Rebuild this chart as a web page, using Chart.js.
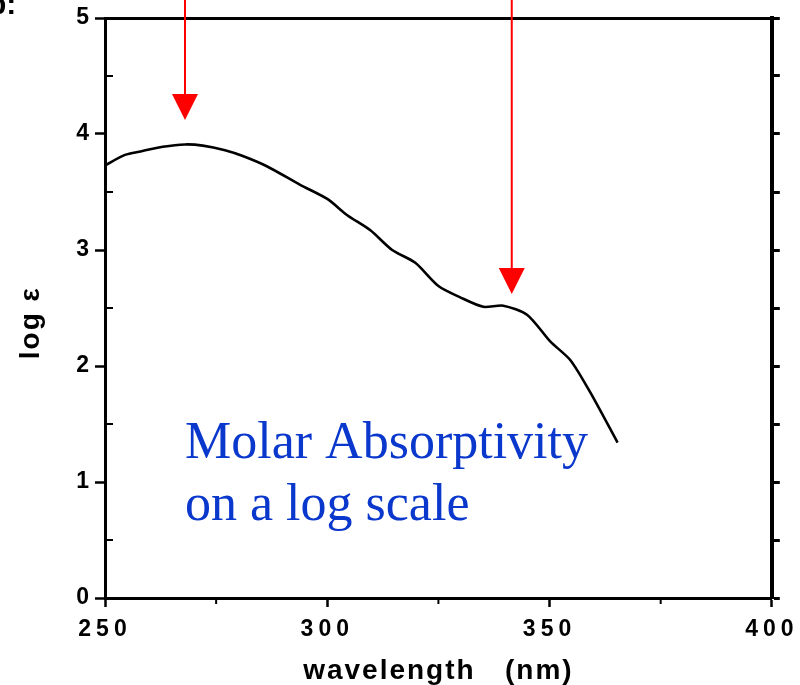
<!DOCTYPE html>
<html>
<head>
<meta charset="utf-8">
<script src="https://cdn.jsdelivr.net/npm/chart.js@4/dist/chart.umd.min.js"></script>
<style>
    html, body { margin: 0; padding: 0; background: #fff; }
    #wrap { width: 800px; height: 685px; }
</style>
</head>
<body>
<div id="wrap"><canvas id="spectrum" width="800" height="685"></canvas></div>
<script>
// wavelength (nm) and log epsilon
const wavelength = [250, 254.5, 258, 263, 268, 272, 277, 281, 286.5, 294, 300, 304.5, 309.7, 314.6, 319.8, 325, 330, 335.1, 339.6, 345, 350.2, 354.7, 359.2, 365.3];
const logEps = [3.73, 3.82, 3.85, 3.89, 3.91, 3.90, 3.86, 3.81, 3.72, 3.56, 3.44, 3.30, 3.17, 3.00, 2.89, 2.69, 2.59, 2.51, 2.52, 2.44, 2.21, 2.05, 1.77, 1.34];

const xTicks = [250, 300, 350, 400];
const yTicks = [0, 1, 2, 3, 4, 5];

// red arrows: wavelength and where the tip sits (log eps)
const arrowAt = [268, 341.5];
const arrowTip = [4.12, 2.62];

const noteLines = ['Molar Absorptivity', 'on a log scale'];
const noteAt = [268, 1.21, 0.67]; // x, baseline of line 1, baseline of line 2

const ink = '#000';

// spaced-out lettering: titles are drawn before the datasets, tick labels (z 1) after
const spacing = {
    id: 'spacing',
    beforeDraw(chart) {
        chart.ctx.letterSpacing = '2px';
    },
    afterDatasetsDraw(chart) {
        chart.ctx.letterSpacing = '5px';
    }
};

// arrows, the blue note, the cut "b:" and the inward minor ticks
const extras = {
    id: 'extras',
    afterDraw(chart) {
        const ctx = chart.ctx;
        const xs = chart.scales.x;
        const ys = chart.scales.y;
        const area = chart.chartArea;

        ctx.letterSpacing = '0px';
        ctx.save();
        // minor ticks, pointing inward
        ctx.strokeStyle = ink;
        ctx.lineWidth = 2;
        for (let v = 0.5; v < 5; v += 1) {
            const py = ys.getPixelForValue(v);
            ctx.beginPath();
            ctx.moveTo(area.left, py);
            ctx.lineTo(area.left + 8, py);
            ctx.stroke();
        }
        for (let v = 275; v < 400; v += 50) {
            const px = xs.getPixelForValue(v);
            ctx.beginPath();
            ctx.moveTo(px, area.bottom);
            ctx.lineTo(px, area.bottom + 6);
            ctx.stroke();
        }

        // red arrows from the top of the page
        ctx.strokeStyle = '#ff0000';
        ctx.fillStyle = '#ff0000';
        ctx.lineWidth = 2;
        arrowAt.forEach((w, i) => {
            const px = xs.getPixelForValue(w);
            const tip = ys.getPixelForValue(arrowTip[i]);
            ctx.beginPath();
            ctx.moveTo(px, 0);
            ctx.lineTo(px, tip - 24);
            ctx.stroke();
            ctx.beginPath();
            ctx.moveTo(px - 13, tip - 26);
            ctx.lineTo(px + 13, tip - 26);
            ctx.lineTo(px, tip);
            ctx.closePath();
            ctx.fill();
        });

        // blue note
        ctx.fillStyle = '#0a37cc';
        ctx.font = '52px "Liberation Serif", "Times New Roman", serif';
        ctx.textAlign = 'left';
        ctx.textBaseline = 'alphabetic';
        const nx = xs.getPixelForValue(noteAt[0]);
        ctx.fillText(noteLines[0], nx, ys.getPixelForValue(noteAt[1]));
        ctx.fillText(noteLines[1], nx, ys.getPixelForValue(noteAt[2]));

        // panel letter, cut off at the page edge
        ctx.fillStyle = ink;
        ctx.font = 'bold 30px "Liberation Sans", Arial, sans-serif';
        ctx.fillText('b:', -12, 14);
        ctx.restore();
    }
};

const tickFont = { family: '"Liberation Sans", Arial, sans-serif', size: 23, weight: 'bold' };
const titleFont = { family: '"Liberation Sans", Arial, sans-serif', size: 28, weight: 'bold' };

new Chart(document.getElementById('spectrum'), {
    type: 'line',
    data: {
        datasets: [{
            data: wavelength.map((w, i) => ({ x: w, y: logEps[i] })),
            borderColor: ink,
            borderWidth: 2.6,
            pointRadius: 0,
            tension: 0.25,
            fill: false
        }]
    },
    options: {
        responsive: false,
        animation: false,
        layout: { padding: { left: 0, top: 18, right: 27, bottom: 0 } },
        plugins: {
            legend: { display: false },
            tooltip: { enabled: false }
        },
        scales: {
            x: {
                type: 'linear',
                min: 250,
                max: 400,
                afterBuildTicks: s => { s.ticks = xTicks.map(v => ({ value: v })); },
                afterFit: s => { s.height = 87; },
                ticks: { color: ink, font: tickFont, padding: 9, maxRotation: 0, z: 1 },
                grid: { drawOnChartArea: false, drawTicks: true, tickLength: 9, tickWidth: 2.5, tickColor: ink },
                border: { color: ink, width: 3 },
                title: { display: true, text: 'wavelength   (nm)', color: ink, font: titleFont, padding: { top: 0, bottom: -3 } }
            },
            x2: {
                type: 'linear',
                position: 'top',
                min: 250,
                max: 400,
                afterFit: s => { s.height = 0; },
                ticks: { display: false },
                grid: { drawOnChartArea: false, drawTicks: false },
                border: { color: ink, width: 3 }
            },
            y: {
                min: 0,
                max: 5,
                afterBuildTicks: s => { s.ticks = yTicks.map(v => ({ value: v })); },
                afterFit: s => { s.width = 105; },
                ticks: { color: ink, font: tickFont, padding: 1, z: 1 },
                grid: { drawOnChartArea: false, drawTicks: true, tickLength: 10, tickWidth: 2.5, tickColor: ink },
                border: { color: ink, width: 3 },
                // trailing spaces push the rotated title a little lower, as on the scan
                title: { display: true, text: 'log ε   ', color: ink, font: titleFont, padding: { top: 14, bottom: 0 } }
            },
            y2: {
                position: 'right',
                min: 0,
                max: 5,
                afterBuildTicks: s => {
                    const t = [];
                    for (let v = 0; v <= 5; v += 0.5) t.push({ value: v });
                    s.ticks = t;
                },
                afterFit: s => { s.width = 0; },
                ticks: { display: false },
                grid: { drawOnChartArea: false, drawTicks: true, tickLength: 8, tickWidth: 3, tickColor: ink },
                border: { color: ink, width: 4 }
            }
        }
    },
    plugins: [spacing, extras]
});
</script>
</body>
</html>
